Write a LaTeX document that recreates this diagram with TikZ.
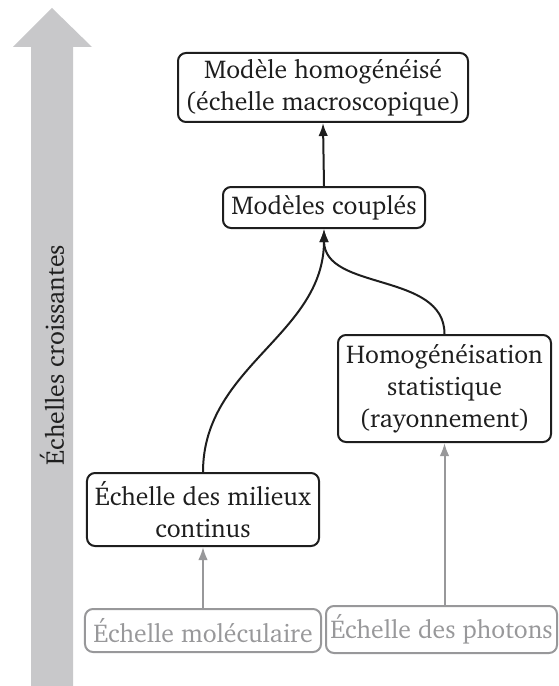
\documentclass[tikz,border=0pt]{standalone}
\usepackage[T1]{fontenc}
\renewcommand{\rmdefault}{bch}
\usetikzlibrary{arrows.meta}
\definecolor{scalegray}{RGB}{200,200,202}
\definecolor{faint}{RGB}{152,152,154}
\definecolor{ink}{RGB}{30,30,30}
\tikzset{
  labelfont/.style={font=\fontsize{10.3}{12.8}\selectfont},
  box/.style={draw=ink, text=ink, line width=0.8pt, rounded corners=3.2pt,
    align=center, inner sep=0pt, labelfont},
  lowbox/.style={box, draw=faint, text=faint},
  link/.style={draw=ink, line width=0.8pt, -{Latex[length=5.2pt,width=3.8pt]}},
  lowlink/.style={link, draw=faint},
}
\begin{document}
\begin{tikzpicture}[x=0.4pt,y=0.4pt]
\useasboundingbox (0,0) rectangle (559,-686);
% scale axis: broad upward arrow
\fill[scalegray] (31,-686) -- (31,-47) -- (13,-47) -- (52,-8) -- (92,-47)
  -- (73,-47) -- (73,-686) -- cycle;
\node[rotate=90, text=ink, labelfont, inner sep=0pt] (axis) at (52,-355) {Échelles croissantes};

% model boxes
\node[box, minimum width=116pt, minimum height=27.6pt] (macro) at (323,-87.5)
  {Modèle homogénéisé\\(échelle macroscopique)};
\node[box, minimum width=80.8pt, minimum height=16.4pt] (couples) at (324,-207.5)
  {Modèles couplés};
\node[box, minimum width=92.8pt, minimum height=29.2pt] (milieux) at (203,-509.5)
  {Échelle des milieux\\continus};
\node[box, minimum width=85.2pt, minimum height=42.8pt] (homog) at (444.5,-388.5)
  {Homogénéisation\\statistique\\(rayonnement)};
\node[lowbox, minimum width=94.4pt, minimum height=17.2pt] (molec) at (203,-630.5)
  {Échelle moléculaire};
\node[lowbox, minimum width=92.4pt, minimum height=18.8pt] (photons) at (441.5,-629.5)
  {Échelle des photons};

% connectors
\draw[link] (couples.north) -- (macro.south);
\draw[link] (milieux.north) to[out=90, in=-90] (couples.south);
\draw[link] (homog.north) to[out=90, in=-90] (couples.south);
\draw[lowlink] (molec.north) -- (milieux.south);
\draw[lowlink] (photons.north -| homog.south) -- (homog.south);
\end{tikzpicture}
\end{document}
